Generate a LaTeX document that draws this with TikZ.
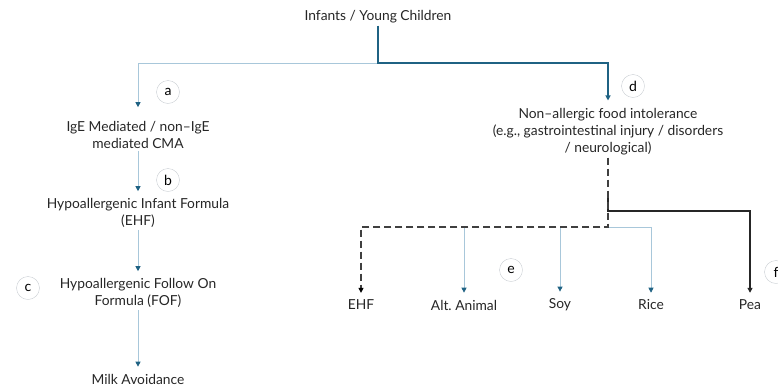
\documentclass[tikz,border=0pt]{standalone}
\usepackage{fontspec}
\setmainfont{Lato}
\usetikzlibrary{arrows.meta}
\definecolor{tealdark}{HTML}{1F6283}
\definecolor{bluelight}{HTML}{A8C7DA}
\definecolor{tagline}{HTML}{C8CDD2}
\tikzset{ lbl/.style = { align        = center
                       , font         = \fontsize{13.8}{17}\selectfont
                       , inner sep    = 2pt
                       , text         = black!85
                       },
          tag/.style = { circle
                       , draw         = tagline
                       , thin
                       , inner sep    = 0pt
                       , minimum size = 23pt
                       , font         = \fontsize{14}{14}\selectfont
                       },
          lt/.style  = { draw = bluelight
                       , line width   = 0.8pt
                       , -{Triangle[length=5pt,width=5pt,color=tealdark]}
                       , shorten >= 5pt
                       },
          dk/.style  = { draw = tealdark
                       , line width   = 1.1pt
                       , -{Triangle[length=5pt,width=5pt]}
                       , shorten >= 5pt
                       },
          dsh/.style = { draw = black!75
                       , line width   = 1.2pt
                       , dash pattern = on 7pt off 4pt
                       , -{Triangle[length=5pt,width=5pt,color=black]}
                       , shorten >= 5pt
                       },
          blk/.style = { draw = black!85
                       , line width   = 1.2pt
                       , -{Triangle[length=5pt,width=5pt]}
                       , shorten >= 5pt
                       }
          }

\begin{document}
\begin{tikzpicture}[x=1pt,y=-1pt]
  \useasboundingbox (0,0) rectangle (778,389);

  % top
  \node[lbl] (root) at (378,17) {Infants / Young Children};
  \coordinate (split) at (378,63);

  % left column
  \node[lbl] (cma)  at (138,135) {IgE Mediated / non\textendash IgE\\mediated CMA};
  \node[lbl] (ehf)  at (138,213) {Hypoallergenic Infant Formula\\(EHF)};
  \node[lbl] (fof)  at (138,293) {Hypoallergenic Follow On\\Formula (FOF)};
  \node[lbl] (milk) at (138,379) {Milk Avoidance};

  % right column
  \node[lbl] (nafi) at (608,132) {Non\textendash allergic food intolerance\\(e.g.,\ gastrointestinal injury / disorders\\/ neurological)};
  \coordinate (k0)   at (608,191);
  \coordinate (k)    at (608,211);
  \coordinate (fork) at (608,227);

  \node[lbl] (e1)   at (361,305) {EHF};
  \node[lbl] (alt)  at (464,305) {Alt.\ Animal};
  \node[lbl] (soy)  at (560,305) {Soy};
  \node[lbl] (rice) at (651,305) {Rice};
  \node[lbl] (pea)  at (750,305) {Pea};

  % tags
  \node[tag] (ta) at (168,92)  {a};
  \node[tag] (tb) at (168,180) {b};
  \node[tag] (tc) at (28,288)  {c};
  \node[tag] (td) at (633,86)  {d};
  \node[tag] (te) at (511,270) {e};
  \node[tag] (tf) at (776,272) {f};

  % connectors
  \draw[lt, shorten >= 12pt] (split) -| (cma.north);
  \draw[dk, shorten >= 6pt] (root.south) -- (split) -| (nafi.north);
  \draw[lt] (cma.south)  -- (ehf.north);
  \draw[lt] (ehf.south)  -- (fof.north);
  \draw[lt] (fof.south)  -- (milk.north);

  \draw[lt] (fork) -| (rice.north);
  \draw[lt] (alt.north |- fork) -- (alt.north);
  \draw[lt] (soy.north |- fork) -- (soy.north);
  \draw[blk] (k0) -- (k) -| (pea.north);
  \draw[dsh] (nafi.south) -- (fork) -| (e1.north);
\end{tikzpicture}
\end{document}
